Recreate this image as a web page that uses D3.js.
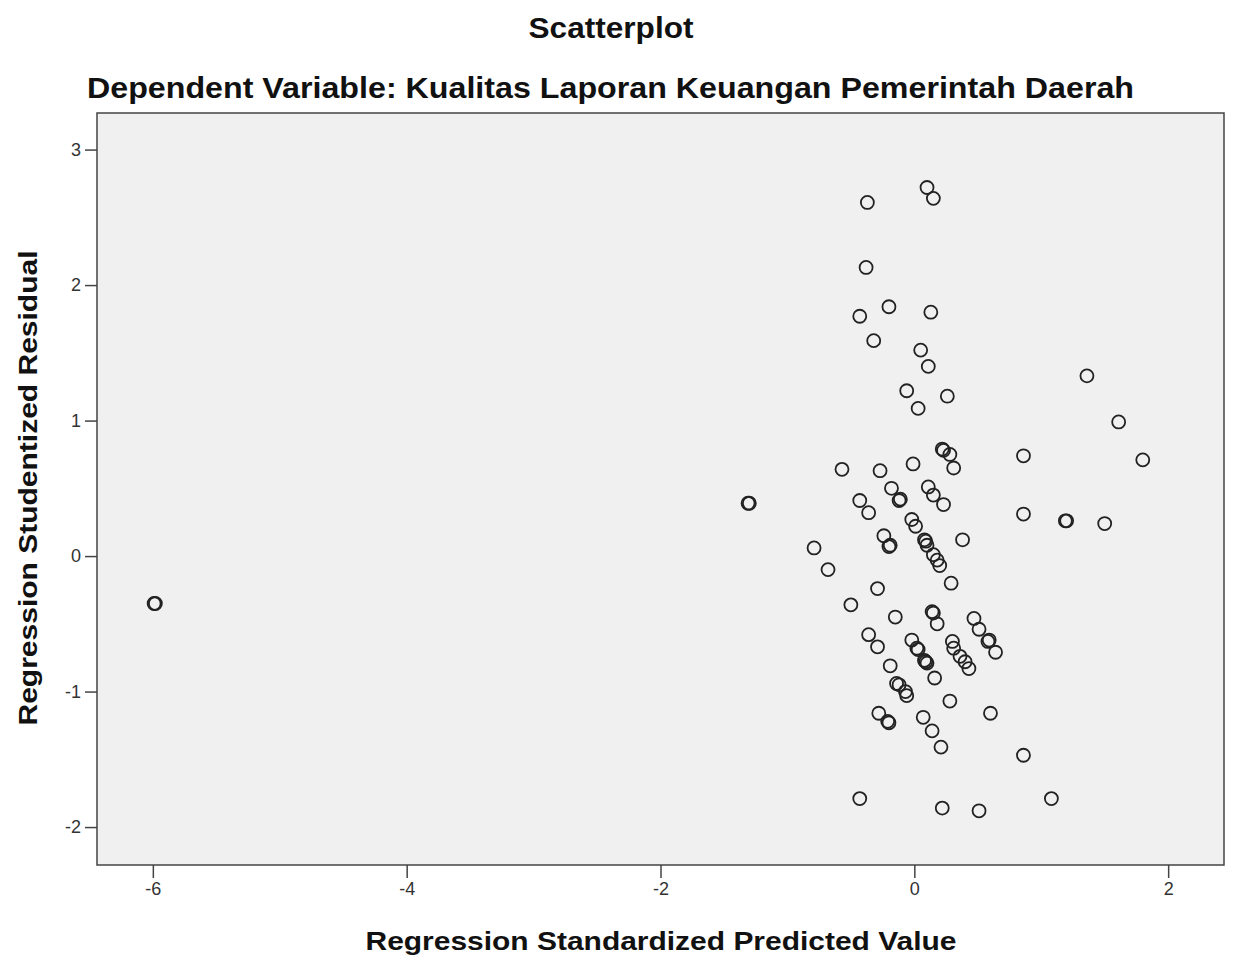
<!DOCTYPE html>
<html>
<head>
<meta charset="utf-8">
<script src="https://cdn.jsdelivr.net/npm/d3@7"></script>
<style>
  body { margin: 0; background: #fff; }
  text { font-family: "Liberation Sans", Arial, sans-serif; }
</style>
</head>
<body>
<svg id="chart" width="1234" height="959"></svg>
<script>
// Regression Standardized Predicted Value (x) and Studentized Residual (y)
const predicted = [
	-5.99, -5.98, -1.31, -1.30,
	-0.37, 0.10, 0.15, -0.38, -0.20, -0.43, 0.13, -0.32, 0.05, 0.11, -0.06, 0.26, 0.03,
	1.36, 1.61, 0.86, 1.80, 0.86, 1.19, 1.20, 1.50,
	0.22, 0.23, 0.28, 0.31, -0.57, -0.27, -0.01, -0.18, -0.12, -0.11, 0.11, 0.15, 0.23,
	-0.43, -0.36, -0.02, 0.01, 0.38, -0.24, -0.20, -0.19, 0.08, 0.09, 0.10, 0.15, 0.18, 0.20,
	-0.79, -0.68, 0.29, -0.29, -0.50, -0.15, 0.14, 0.15, 0.18, 0.47, 0.51, 0.58, 0.59, 0.64,
	-0.36, -0.29, -0.02, 0.02, 0.03, 0.08, 0.09, 0.10, 0.30, 0.31, 0.36, 0.40, 0.43, -0.19,
	0.16, -0.14, -0.12, -0.07, -0.06, 0.28, -0.28, -0.21, -0.20, 0.07, 0.14, 0.21, 0.60, 0.86,
	-0.43, 0.22, 0.51, 1.08
];
const residual = [
	-0.35, -0.35, 0.39, 0.39,
	2.61, 2.72, 2.64, 2.13, 1.84, 1.77, 1.80, 1.59, 1.52, 1.40, 1.22, 1.18, 1.09,
	1.33, 0.99, 0.74, 0.71, 0.31, 0.26, 0.26, 0.24,
	0.79, 0.78, 0.75, 0.65, 0.64, 0.63, 0.68, 0.50, 0.41, 0.42, 0.51, 0.45, 0.38,
	0.41, 0.32, 0.27, 0.22, 0.12, 0.15, 0.07, 0.08, 0.12, 0.11, 0.08, 0.01, -0.03, -0.07,
	0.06, -0.10, -0.20, -0.24, -0.36, -0.45, -0.41, -0.42, -0.50, -0.46, -0.54, -0.63, -0.62, -0.71,
	-0.58, -0.67, -0.62, -0.68, -0.69, -0.77, -0.78, -0.79, -0.63, -0.68, -0.74, -0.78, -0.83, -0.81,
	-0.90, -0.94, -0.95, -1.00, -1.03, -1.07, -1.16, -1.22, -1.23, -1.19, -1.29, -1.41, -1.16, -1.47,
	-1.79, -1.86, -1.88, -1.79
];
const xTicks = [-6, -4, -2, 0, 2];
const yTicks = [-2, -1, 0, 1, 2, 3];

const svg = d3.select("#chart");
const plot = { left: 97, right: 1224, top: 113, bottom: 865 };

const x = d3.scaleLinear().domain([-6.44, 2.44]).range([plot.left, plot.right]);
const y = d3.scaleLinear().domain([-2.28, 3.27]).range([plot.bottom, plot.top]);

// plot background
svg.append("rect")
	.attr("x", plot.left)
	.attr("y", plot.top)
	.attr("width", plot.right - plot.left)
	.attr("height", plot.bottom - plot.top)
	.attr("fill", "#f0f0f0")
	.attr("stroke", "#444")
	.attr("stroke-width", 1.5);

// axes
const fmt = (d) => (d < 0 ? "-" + Math.abs(d) : String(d));
const xAxis = svg.append("g")
	.attr("transform", `translate(0,${plot.bottom})`)
	.call(d3.axisBottom(x).tickValues(xTicks).tickSize(13).tickPadding(4).tickFormat(fmt));
const yAxis = svg.append("g")
	.attr("transform", `translate(${plot.left},0)`)
	.call(d3.axisLeft(y).tickValues(yTicks).tickSize(12).tickPadding(4).tickFormat(fmt));

for (const g of [xAxis, yAxis]) {
	g.select(".domain").remove();
	g.selectAll(".tick line").attr("stroke", "#444").attr("stroke-width", 1.5);
	g.selectAll(".tick text")
		.attr("fill", "#333")
		.style("font-size", "18px")
		.style("font-family", "Liberation Sans, Arial, sans-serif");
}

// points
svg.append("g")
	.selectAll("circle")
	.data(predicted.map((d, i) => [d, residual[i]]))
	.join("circle")
	.attr("cx", (d) => x(d[0]))
	.attr("cy", (d) => y(d[1]))
	.attr("r", 6.5)
	.attr("fill", "none")
	.attr("stroke", "#222")
	.attr("stroke-width", 1.8);

// titles
svg.append("text")
	.attr("x", 611)
	.attr("y", 38)
	.attr("text-anchor", "middle")
	.attr("textLength", 165)
	.attr("lengthAdjust", "spacingAndGlyphs")
	.style("font-size", "29px")
	.style("font-weight", "bold")
	.attr("fill", "#111")
	.text("Scatterplot");

svg.append("text")
	.attr("x", 87)
	.attr("y", 98)
	.attr("textLength", 1047)
	.attr("lengthAdjust", "spacingAndGlyphs")
	.style("font-size", "30px")
	.style("font-weight", "bold")
	.attr("fill", "#111")
	.text("Dependent Variable: Kualitas Laporan Keuangan Pemerintah Daerah");

svg.append("text")
	.attr("x", 661)
	.attr("y", 950)
	.attr("text-anchor", "middle")
	.attr("textLength", 591)
	.attr("lengthAdjust", "spacingAndGlyphs")
	.style("font-size", "26px")
	.style("font-weight", "bold")
	.attr("fill", "#111")
	.text("Regression Standardized Predicted Value");

svg.append("text")
	.attr("transform", "translate(37,488) rotate(-90)")
	.attr("text-anchor", "middle")
	.attr("textLength", 475)
	.attr("lengthAdjust", "spacingAndGlyphs")
	.style("font-size", "26px")
	.style("font-weight", "bold")
	.attr("fill", "#111")
	.text("Regression Studentized Residual");
</script>
</body>
</html>
